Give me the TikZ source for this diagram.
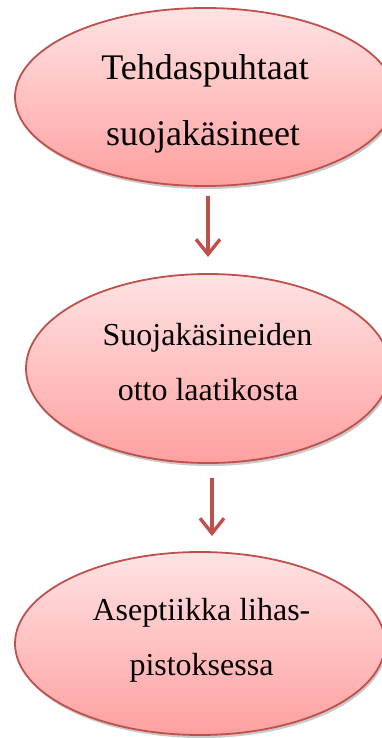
\documentclass[tikz,border=0pt]{standalone}
\usepackage{fontspec}
\setmainfont{Liberation Serif}
\usetikzlibrary{shapes.geometric,arrows.meta,shadows}

\definecolor{edgered}{HTML}{C0504D}
\definecolor{filltop}{HTML}{FFE3E3}
\definecolor{fillbot}{HTML}{FFA0A0}

\tikzset{
  stepoval/.style={ellipse, draw=edgered, line width=1.8pt,
    top color=filltop, bottom color=fillbot, inner sep=0pt,
    drop shadow={shadow xshift=1.5pt, shadow yshift=-3pt, opacity=0.3, fill=black!70}},
  bigtxt/.style={anchor=base, inner sep=0pt, font=\fontsize{36}{40}\selectfont},
  midtxt/.style={anchor=base, inner sep=0pt, font=\fontsize{32}{36}\selectfont},
  flowarrow/.style={draw=edgered, line width=3.4pt,
    -{Straight Barb[length=15pt, width=24pt, line width=3.4pt]}}
}

\begin{document}
\begin{tikzpicture}[x=1pt, y=1pt]
  \useasboundingbox (0,0) rectangle (382,-738);

  % three process stages
  \node[stepoval, minimum width=380pt, minimum height=178pt] (e1) at (205,-97) {};
  \node[stepoval, minimum width=364pt, minimum height=189pt] (e2) at (208,-368.5) {};
  \node[stepoval, minimum width=370pt, minimum height=183pt] (e3) at (200,-643.5) {};

  % stage labels
  \node[bigtxt] (t1a) at (205,-80) {Tehdaspuhtaat};
  \node[bigtxt] (t1b) at (203,-146) {suojakäsineet};
  \node[midtxt] (t2a) at (207.5,-345) {Suojakäsineiden};
  \node[midtxt] (t2b) at (208,-400) {otto laatikosta};
  \node[midtxt] (t3a) at (201.5,-620) {Aseptiikka lihas-};
  \node[midtxt] (t3b) at (201.5,-675) {pistoksessa};

  % arrows between stages
  \coordinate (a1s) at (208,-196);
  \coordinate (a1e) at (208,-257);
  \coordinate (a2s) at (212,-478);
  \coordinate (a2e) at (212,-536);
  \draw[flowarrow] (a1s) -- (a1e);
  \draw[flowarrow] (a2s) -- (a2e);
\end{tikzpicture}
\end{document}
